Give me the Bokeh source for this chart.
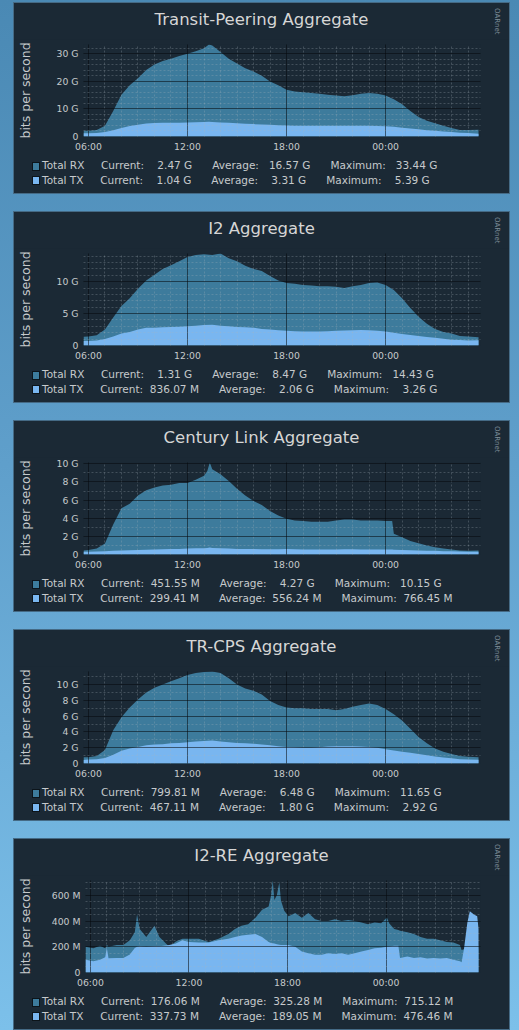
from bokeh.plotting import figure
from bokeh.models import Range1d, FixedTicker, Div
from bokeh.layouts import column
from bokeh.embed import file_html
from bokeh.resources import INLINE

# ---------------- data ----------------
TICK_HOURS = [0, 6, 12, 18]
TICK_LABELS = ["06:00", "12:00", "18:00", "00:00"]

HALF_HOURS = [-0.3, 0.0, 0.5, 1.0, 1.5, 2.0, 2.5, 3.0, 3.5, 4.0, 4.5, 5.0, 5.5, 6.0, 6.5,
              7.0, 7.5, 8.0, 8.5, 9.0, 9.5, 10.0, 10.5, 11.0, 11.5, 12.0, 12.5, 13.0, 13.5,
              14.0, 14.5, 15.0, 15.5, 16.0, 16.5, 17.0, 17.5, 18.0, 18.5, 19.0, 19.5, 20.0,
              20.5, 21.0, 21.5, 22.0, 22.5, 23.0, 23.63]

# Panel 1: Transit-Peering Aggregate (G)
P1_TITLE = "Transit-Peering Aggregate"
P1_HOURS = [-0.3, 0.0, 0.5, 1.0, 1.5, 2.0, 2.5, 3.0, 3.5, 4.0, 4.5, 5.0, 5.5, 6.0, 6.5,
            7.0, 7.3, 7.5, 8.0, 8.5, 9.0, 9.5, 10.0, 10.5, 11.0, 11.5, 12.0, 12.5, 13.0,
            13.5, 14.0, 14.5, 15.0, 15.5, 16.0, 16.5, 17.0, 17.5, 18.0, 18.5, 19.0, 19.5,
            20.0, 20.5, 21.0, 21.5, 22.0, 22.5, 23.0, 23.63]
P1_RX = [2.1, 2.1, 2.4, 3.9, 9.3, 15.2, 18.6, 21.2, 24.2, 26.2, 27.4, 28.3, 29.3, 30.1, 31.0,
         32.1, 33.44, 33.1, 30.7, 28.3, 26.5, 24.8, 23.6, 22.1, 20.0, 18.6, 17.0, 16.4, 16.1,
         15.8, 15.5, 15.2, 14.9, 14.6, 15.0, 15.5, 15.8, 15.5, 14.9, 13.5, 11.7, 9.3, 7.1,
         5.7, 4.8, 3.9, 3.1, 2.4, 2.4, 2.47]
P1_TX = [1.2, 1.2, 1.3, 1.6, 2.3, 3.1, 3.8, 4.3, 4.7, 4.9, 5.0, 5.0, 5.0, 5.1, 5.2, 5.3, 5.39,
         5.3, 5.1, 5.0, 4.8, 4.6, 4.5, 4.4, 4.3, 4.1, 4.0, 3.9, 3.9, 3.9, 3.9, 3.9, 3.9, 3.9,
         3.9, 3.9, 3.9, 3.8, 3.7, 3.5, 3.2, 2.9, 2.6, 2.3, 2.1, 1.8, 1.6, 1.4, 1.3, 1.04]
P1_YMAX = 33.44
P1_YTICKS = [0, 10, 20, 30]
P1_YLABELS = ["0", "10 G", "20 G", "30 G"]
P1_YMINOR_STEP = 2
P1_RX_STATS = [(2.47, "G"), (16.57, "G"), (33.44, "G")]
P1_TX_STATS = [(1.04, "G"), (3.31, "G"), (5.39, "G")]

# Panel 2: I2 Aggregate (G)
P2_TITLE = "I2 Aggregate"
P2_HOURS = HALF_HOURS
P2_RX = [1.36, 1.4, 1.6, 2.5, 4.4, 6.2, 7.4, 8.9, 10.2, 11.1, 12.0, 12.6, 13.2, 13.9, 14.2,
         14.3, 14.2, 14.43, 13.7, 13.2, 12.5, 12.0, 11.7, 10.9, 10.2, 9.8, 9.7, 9.5, 9.4, 9.3,
         9.3, 9.2, 9.0, 9.3, 9.5, 9.8, 9.9, 9.5, 8.7, 7.4, 5.9, 4.5, 3.4, 2.6, 2.1, 1.9, 1.5,
         1.4, 1.31]
P2_TX = [0.7, 0.7, 0.8, 1.0, 1.4, 1.9, 2.1, 2.5, 2.8, 2.8, 2.85, 2.9, 2.95, 3.0, 3.1, 3.2,
         3.26, 3.1, 3.0, 2.9, 2.85, 2.8, 2.6, 2.5, 2.4, 2.3, 2.25, 2.2, 2.2, 2.2, 2.25, 2.3,
         2.35, 2.4, 2.45, 2.4, 2.3, 2.2, 2.0, 1.8, 1.65, 1.5, 1.35, 1.2, 1.05, 0.9, 0.85,
         0.8, 0.84]
P2_YMAX = 14.43
P2_YTICKS = [0, 5, 10]
P2_YLABELS = ["0", "5 G", "10 G"]
P2_YMINOR_STEP = 1
P2_RX_STATS = [(1.31, "G"), (8.47, "G"), (14.43, "G")]
P2_TX_STATS = [(836.07, "M"), (2.06, "G"), (3.26, "G")]

# Panel 3: Century Link Aggregate (G)
P3_TITLE = "Century Link Aggregate"
P3_HOURS = [-0.3, 0.0, 0.5, 1.0, 1.5, 2.0, 2.5, 3.0, 3.5, 4.0, 4.5, 5.0, 5.5, 6.0, 6.5,
            7.0, 7.2, 7.35, 7.5, 8.0, 8.5, 9.0, 9.5, 10.0, 10.5, 11.0, 11.5, 12.0, 12.5,
            13.0, 13.5, 14.0, 14.5, 15.0, 15.5, 16.0, 16.5, 17.0, 17.5, 18.0, 18.4, 18.5,
            19.0, 19.5, 20.0, 20.5, 21.0, 21.5, 22.0, 22.5, 23.0, 23.63]
P3_RX = [0.45, 0.5, 0.65, 1.2, 3.3, 5.1, 5.6, 6.5, 7.1, 7.4, 7.6, 7.7, 7.9, 7.9, 8.25, 8.7,
         9.2, 10.15, 9.4, 8.85, 8.1, 7.25, 6.5, 5.9, 5.45, 4.8, 4.3, 3.95, 3.75, 3.7, 3.6,
         3.6, 3.6, 3.75, 3.85, 3.85, 3.75, 3.75, 3.75, 3.7, 3.7, 2.3, 1.9, 1.5, 1.25, 1.0,
         0.8, 0.65, 0.55, 0.45, 0.4, 0.45]
P3_TX = [0.3, 0.3, 0.32, 0.35, 0.4, 0.45, 0.48, 0.5, 0.52, 0.55, 0.58, 0.6, 0.62, 0.65,
         0.68, 0.7, 0.72, 0.77, 0.72, 0.68, 0.65, 0.62, 0.61, 0.6, 0.59, 0.58, 0.59, 0.6,
         0.57, 0.55, 0.55, 0.55, 0.56, 0.56, 0.57, 0.57, 0.56, 0.56, 0.55, 0.55, 0.55, 0.53,
         0.5, 0.47, 0.45, 0.42, 0.4, 0.37, 0.35, 0.32, 0.3, 0.3]
P3_YMAX = 10.15
P3_YTICKS = [0, 2, 4, 6, 8, 10]
P3_YLABELS = ["0", "2 G", "4 G", "6 G", "8 G", "10 G"]
P3_YMINOR_STEP = 1
P3_RX_STATS = [(451.55, "M"), (4.27, "G"), (10.15, "G")]
P3_TX_STATS = [(299.41, "M"), (556.24, "M"), (766.45, "M")]

# Panel 4: TR-CPS Aggregate (G)
P4_TITLE = "TR-CPS Aggregate"
P4_HOURS = HALF_HOURS
P4_RX = [0.8, 0.8, 0.95, 1.7, 4.2, 5.85, 7.1, 8.1, 9.0, 9.6, 10.0, 10.4, 10.8, 11.2, 11.45,
         11.6, 11.65, 11.45, 10.8, 10.0, 9.5, 9.2, 8.75, 7.9, 7.4, 7.1, 7.0, 7.0, 6.9, 6.9,
         6.9, 6.75, 6.9, 7.2, 7.4, 7.6, 7.4, 6.9, 6.25, 5.45, 4.4, 3.35, 2.55, 1.9, 1.5, 1.2,
         0.95, 0.85, 0.8]
P4_TX = [0.45, 0.5, 0.55, 0.7, 1.1, 1.6, 1.9, 2.1, 2.3, 2.4, 2.45, 2.55, 2.6, 2.7, 2.8,
         2.85, 2.92, 2.8, 2.7, 2.6, 2.55, 2.5, 2.4, 2.3, 2.2, 2.1, 2.05, 2.0, 2.0, 2.05,
         2.15, 2.2, 2.2, 2.2, 2.15, 2.1, 2.0, 1.8, 1.65, 1.5, 1.35, 1.2, 1.05, 0.9, 0.75,
         0.65, 0.55, 0.5, 0.47]
P4_YMAX = 11.65
P4_YTICKS = [0, 2, 4, 6, 8, 10]
P4_YLABELS = ["0", "2 G", "4 G", "6 G", "8 G", "10 G"]
P4_YMINOR_STEP = 1
P4_RX_STATS = [(799.81, "M"), (6.48, "G"), (11.65, "G")]
P4_TX_STATS = [(467.11, "M"), (1.80, "G"), (2.92, "G")]

# Panel 5: I2-RE Aggregate (M)
P5_TITLE = "I2-RE Aggregate"
P5_HOURS = [-0.3, 0.18, 0.58, 0.9, 1.0, 1.1, 1.6, 2.0, 2.4, 2.7, 2.84, 3.0, 3.4, 3.9, 4.2,
            4.8, 5.2, 5.6, 6.0, 6.6, 7.2, 7.8, 8.4, 8.8, 9.2, 9.6, 10.05, 10.45, 10.85, 11.0,
            11.1, 11.2, 11.35, 11.5, 11.6, 11.8, 12.06, 12.47, 12.87, 13.27, 13.68, 14.08,
            14.48, 14.88, 15.29, 15.69, 16.09, 16.5, 16.9, 17.3, 17.7, 18.05, 18.2, 18.5,
            18.75, 18.85, 19.3, 19.7, 20.1, 20.5, 20.9, 21.3, 21.7, 22.1, 22.5, 22.6, 22.75,
            22.95, 23.1, 23.35, 23.55, 23.63]
P5_RX = [200, 188, 208, 188, 215, 200, 213, 213, 250, 313, 450, 338, 275, 363, 275, 200, 240,
         263, 263, 263, 238, 263, 300, 338, 363, 375, 425, 488, 513, 600, 715, 563, 600, 700,
         560, 480, 438, 463, 425, 463, 413, 400, 400, 413, 400, 408, 400, 388, 375, 388, 383,
         427, 380, 338, 330, 325, 313, 300, 275, 263, 263, 250, 238, 233, 213, 175, 180, 250,
         300, 350, 300, 176]
P5_TX = [100, 88, 100, 118, 190, 110, 113, 113, 140, 190, 200, 205, 200, 205, 205, 213, 225,
         250, 238, 233, 233, 250, 263, 275, 288, 293, 300, 275, 238, 230, 228, 225, 220, 215,
         213, 213, 213, 200, 163, 150, 138, 138, 150, 143, 150, 138, 150, 163, 175, 188, 193,
         200, 203, 208, 208, 113, 125, 113, 118, 108, 113, 108, 113, 100, 88, 80, 188, 388,
         476, 450, 438, 338]
P5_YMAX = 715.12
P5_YTICKS = [0, 200, 400, 600]
P5_YLABELS = ["0", "200 M", "400 M", "600 M"]
P5_YMINOR_STEP = 50
P5_RX_STATS = [(176.06, "M"), (325.28, "M"), (715.12, "M")]
P5_TX_STATS = [(337.73, "M"), (189.05, "M"), (476.46, "M")]

WATERMARK = "OARnet"

# ---------------- style ----------------
FONT = "DejaVu Sans"
PANEL_BG = "#1b2935"
RX_COLOR = "#3d7b9c"
TX_COLOR = "#79b6f0"
TEXT = "#c6c9cc"
TITLE_COLOR = "#d6d6d6"
NB = "\u00a0"


def stat_line(name, stats):
    labels = ["Current:", "Average:", "Maximum:"]
    parts = []
    for lab, (v, u) in zip(labels, stats):
        parts.append(lab + f"{v:8.2f}".replace(" ", NB) + NB + u)
    return name + NB * 5 + (NB * 6).join(parts)


def title_div(title):
    html = (f'<div style="position:relative;width:495px;height:36px">'
            f'<div style="font-family:\'{FONT}\';font-size:16.5px;color:{TITLE_COLOR};'
            f'text-align:center;line-height:34px;width:495px">{title}</div>'
            f'<div style="position:absolute;right:7px;top:5px;writing-mode:vertical-rl;'
            f'font-family:\'{FONT}\';font-size:7px;color:#7f8e9a">{WATERMARK}</div></div>')
    return Div(text=html, width=495, height=36, margin=0)


def legend_div(rx_stats, tx_stats):
    rows = []
    for name, stats, col in (("Total RX", rx_stats, RX_COLOR), ("Total TX", tx_stats, TX_COLOR)):
        sq = (f'<span style="display:inline-block;width:6px;height:7px;background:{col};'
              f'margin-right:3px;vertical-align:-0.5px;box-shadow:0 0 0 1px #0c141a"></span>')
        rows.append(f'<div style="height:14.5px;line-height:14.5px">{sq}{stat_line(name, stats)}</div>')
    html = (f'<div style="font-family:\'{FONT}\';font-size:10.5px;color:{TEXT};white-space:pre;'
            f'padding:4px 0 0 19px">' + "".join(rows) + '</div>')
    return Div(text=html, width=495, height=39, margin=0)


def make_panel(title, hours, rx, tx, ymax, yticks, ylabels, ystep, rx_stats, tx_stats, top):
    p = figure(width=495, height=115, output_backend="svg", toolbar_location=None,
               x_range=Range1d(-0.3, 23.75), y_range=Range1d(0, ymax),
               min_border_left=68, min_border_right=29, min_border_top=5,
               min_border_bottom=15, background_fill_color=PANEL_BG,
               border_fill_color=PANEL_BG, outline_line_color=None, margin=0)

    p.varea(x=hours, y1=0, y2=rx, fill_color=RX_COLOR)
    p.varea(x=hours, y1=0, y2=tx, fill_color=TX_COLOR)

    minor_x = [h for h in range(0, 24) if h % 6 != 0]
    p.xaxis.ticker = FixedTicker(ticks=TICK_HOURS, minor_ticks=minor_x)
    p.xaxis.major_label_overrides = {h: l for h, l in zip(TICK_HOURS, TICK_LABELS)}
    nminor = int(round(ymax / ystep)) + 1
    minor_y = [i * ystep for i in range(1, nminor) if (i * ystep) not in yticks and i * ystep < ymax]
    p.yaxis.ticker = FixedTicker(ticks=yticks, minor_ticks=minor_y)
    p.yaxis.major_label_overrides = {t: l for t, l in zip(yticks, ylabels)}

    for ax in (p.xaxis[0], p.yaxis[0]):
        ax.axis_line_color = None
        ax.major_tick_line_color = None
        ax.minor_tick_line_color = None
        ax.major_tick_out = 0
        ax.major_tick_in = 0
        ax.minor_tick_out = 0
        ax.minor_tick_in = 0
        ax.major_label_text_font = FONT
        ax.major_label_text_font_size = "9.3px"
        ax.major_label_text_color = TEXT
        ax.major_label_standoff = 5
    p.xaxis.major_label_standoff = 4
    p.yaxis.axis_label = "bits per second"
    p.yaxis.axis_label_text_font = FONT
    p.yaxis.axis_label_text_font_size = "12.5px"
    p.yaxis.axis_label_text_font_style = "normal"
    p.yaxis.axis_label_text_color = TEXT
    p.yaxis.axis_label_standoff = 16 if "M" in ylabels[-1] else 21

    for g in (p.xgrid[0], p.ygrid[0]):
        g.level = "guide"
        g.grid_line_color = "#05090c"
        g.grid_line_alpha = 0.55
        g.minor_grid_line_color = "#aab4bd"
        g.minor_grid_line_alpha = 0.28
        g.minor_grid_line_dash = "2 2"

    return column(title_div(title), p, legend_div(rx_stats, tx_stats),
                  width=495, height=190, spacing=0, margin=(top, 0, 0, 14),
                  styles={"background-color": PANEL_BG, "box-shadow": "0 0 0 1px #456a85"})


panels = [
    make_panel(P1_TITLE, P1_HOURS, P1_RX, P1_TX, P1_YMAX, P1_YTICKS, P1_YLABELS, P1_YMINOR_STEP, P1_RX_STATS, P1_TX_STATS, 3),
    make_panel(P2_TITLE, P2_HOURS, P2_RX, P2_TX, P2_YMAX, P2_YTICKS, P2_YLABELS, P2_YMINOR_STEP, P2_RX_STATS, P2_TX_STATS, 0),
    make_panel(P3_TITLE, P3_HOURS, P3_RX, P3_TX, P3_YMAX, P3_YTICKS, P3_YLABELS, P3_YMINOR_STEP, P3_RX_STATS, P3_TX_STATS, 0),
    make_panel(P4_TITLE, P4_HOURS, P4_RX, P4_TX, P4_YMAX, P4_YTICKS, P4_YLABELS, P4_YMINOR_STEP, P4_RX_STATS, P4_TX_STATS, 0),
    make_panel(P5_TITLE, P5_HOURS, P5_RX, P5_TX, P5_YMAX, P5_YTICKS, P5_YLABELS, P5_YMINOR_STEP, P5_RX_STATS, P5_TX_STATS, 0),
]

root = column(*panels, spacing=19, width=519, height=1030,
              styles={"background": "linear-gradient(180deg, #4a89b4 0%, #5f9fcb 45%, #7cc0ea 100%)",
                      "position": "absolute", "left": "0px", "top": "0px", "margin": "0px",
                      "overflow": "hidden"})

open("out.html", "w").write(file_html(root, INLINE))
